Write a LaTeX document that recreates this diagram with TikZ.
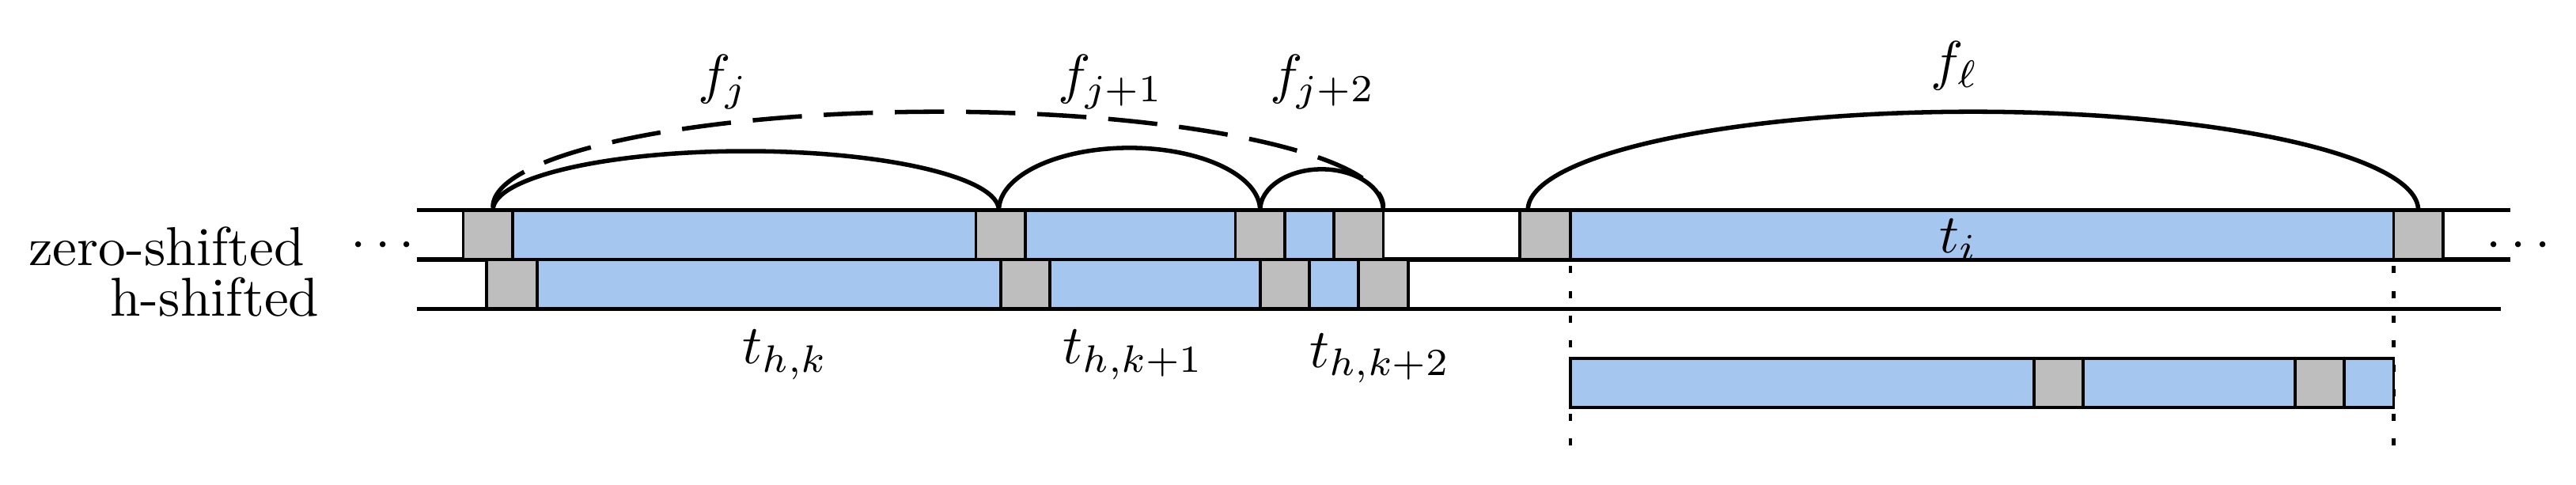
\documentclass[tikz,border=0pt]{standalone}
\begin{document}
\begin{tikzpicture}[x=0.3pt,y=-0.3pt,
  bl/.style={fill=blueseg,draw=black,line width=0.55pt},
  gr/.style={fill=grayseg,draw=black,line width=0.55pt},
  rowline/.style={line width=0.75pt},
  arcline/.style={line width=0.8pt},
  dotv/.style={line width=0.6pt,dash pattern=on 1.3pt off 3.2pt}]
\definecolor{blueseg}{HTML}{A4C6EF}
\definecolor{grayseg}{HTML}{BEBEBE}
\useasboundingbox (0,0) rectangle (1568,295);
% dotted verticals
\draw[dotv] (956,162) -- (956,278);
\draw[dotv] (1457,162) -- (1457,278);
% row lines
\draw[rowline] (254,128) -- (1528,128);
\draw[rowline] (254,158) -- (1528,158);
\draw[rowline] (254,188) -- (1522,188);
% zero-shifted row
\foreach \a/\b/\s in {282/312/gr,312/594/bl,594/624/gr,624/752/bl,752/782/gr,782/812/bl,812/842/gr,925/956/gr,956/1457/bl,1457/1487/gr}
  \draw[\s] (\a,128) rectangle (\b,158);
% h-shifted row
\foreach \a/\b/\s in {296/327/gr,327/609/bl,609/639/gr,639/767/bl,767/797/gr,797/827/bl,827/857/gr}
  \draw[\s] (\a,158) rectangle (\b,188);
% lower bar
\foreach \a/\b/\s in {956/1238/bl,1238/1268/gr,1268/1397/bl,1397/1427/gr,1427/1457/bl}
  \draw[\s] (\a,218) rectangle (\b,248);
% arcs
\draw[arcline] (300,128) arc (180:360:154 and 36);
\draw[arcline] (608,128) arc (180:360:79.5 and 38);
\draw[arcline] (767,128) arc (180:360:37.5 and 25);
\draw[arcline,dashed,dash pattern=on 9pt off 4pt] (300,126) arc (180:360:271 and 58);
\draw[arcline] (930,128) arc (180:360:271 and 60);
% labels
\node (zs) [anchor=east] at (197,150) {zero-shifted};
\node (hs) [anchor=east] at (206,181) {h-shifted};
\node (dl) at (233,150) {$\cdots$};
\node (dr) at (1533,150) {$\cdots$};
\node (ti) at (1192,146) {$t_i$};
\node (fj) at (440,50) {$f_j$};
\node (fj1) at (676,50) {$f_{j+1}$};
\node (fj2) at (805,50) {$f_{j+2}$};
\node (fl) at (1190,40) {$f_\ell$};
\node (thk) at (478,216) {$t_{h,k}$};
\node (thk1) at (690,216) {$t_{h,k+1}$};
\node (thk2) at (840,218) {$t_{h,k+2}$};
\end{tikzpicture}
\end{document}
